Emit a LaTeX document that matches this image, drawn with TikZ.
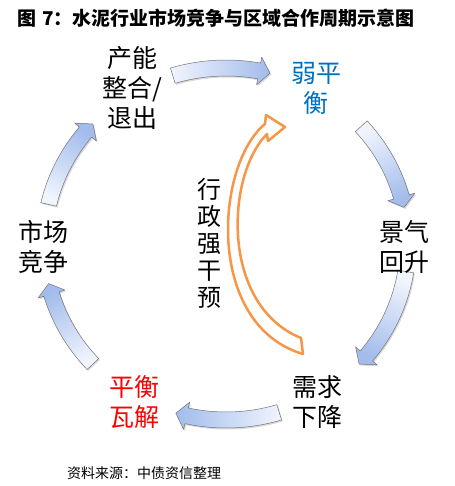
\documentclass[tikz,border=0pt]{standalone}
\usepackage{fontspec}
\newfontfamily\cjk{Noto Sans CJK SC}
\usepackage{tikz}
\usetikzlibrary{shadows}
\definecolor{arrowlight}{RGB}{240,244,253}
\definecolor{arrowdark}{RGB}{163,188,236}
\definecolor{arrowline}{RGB}{115,115,120}
\definecolor{adminorange}{RGB}{247,150,70}
\definecolor{weakblue}{RGB}{0,112,192}
\tikzstyle{stage}=[font=\cjk\fontsize{25}{30}\selectfont, align=center, inner sep=0pt]
\tikzstyle{heading}=[font=\cjk\bfseries\fontsize{19}{22}\selectfont, anchor=west, inner sep=0pt]
\tikzstyle{note}=[font=\cjk\fontsize{14}{16}\selectfont, anchor=west, inner sep=0pt]
\tikzstyle{cycle arrow}=[draw=arrowline, line width=0.5pt, line join=round, top color=arrowdark, bottom color=arrowlight, drop shadow={shadow xshift=1.2pt, shadow yshift=-1.5pt, opacity=0.3}]
\tikzstyle{admin arrow}=[draw=adminorange, line width=2.5pt, fill=white, line join=round]

\begin{document}
\begin{tikzpicture}[x=1pt, y=-1pt]
		\useasboundingbox (0,0) rectangle (454,486);
		\node[heading] (title) at (17,18) {图\hspace{6pt}7：水泥行业市场竞争与区域合作周期示意图};
		\node[note] (source) at (67,473) {资料来源：中债资信整理};
		
		% First we draw the arrows of the cycle
		\begin{scope}[shift={(226,244)}]
		\foreach \tail/\tip in {-107/-76, -42/-12, 9/43, 73/106, 137/167, 193/223}{
			\pgfmathsetmacro{\base}{\tip-3.5}
			\pgfmathsetmacro{\shade}{-(\tail+\tip)/2-180}
			\path[cycle arrow, shading angle=\shade]
				(\tail:190 and 184) arc[start angle=\tail, end angle=\base, x radius=190, y radius=184]
				-- (\base:196 and 190) -- (\tip:182 and 176) -- (\base:168 and 162) -- (\base:174 and 168)
				arc[start angle=\base, end angle=\tail, x radius=174, y radius=168] -- cycle;
		}
		\end{scope}
		
		% Then the stages
		\foreach \pos/\label/\name/\col in {
			{(132,88)/consolidate/{产能\\整合/\\退出}/black},
			{(316,88)/weakbalance/{弱平\\衡}/weakblue},
			{(404,247)/recovery/{景气\\回升}/black},
			{(317,402)/decline/{需求\\下降}/black},
			{(134,402)/collapse/{平衡\\瓦解}/red},
			{(43,247)/competition/{市场\\竞争}/black}}
		\node[stage, text=\col] (\label) at \pos {\name};
		
		\node[stage, font=\cjk\fontsize{24}{27}\selectfont] (intervention) at (209,243) {行\\政\\强\\干\\预};
		
		% Curved arrow of the intervention
		\path[admin arrow] (265,124) .. controls (215,165) and (205,325) .. (303,354) -- (301,338)
			.. controls (220,305) and (226,175) .. (267,134) -- (268,141) -- (285,127) -- (266,115) -- cycle;
\end{tikzpicture}
\end{document}
